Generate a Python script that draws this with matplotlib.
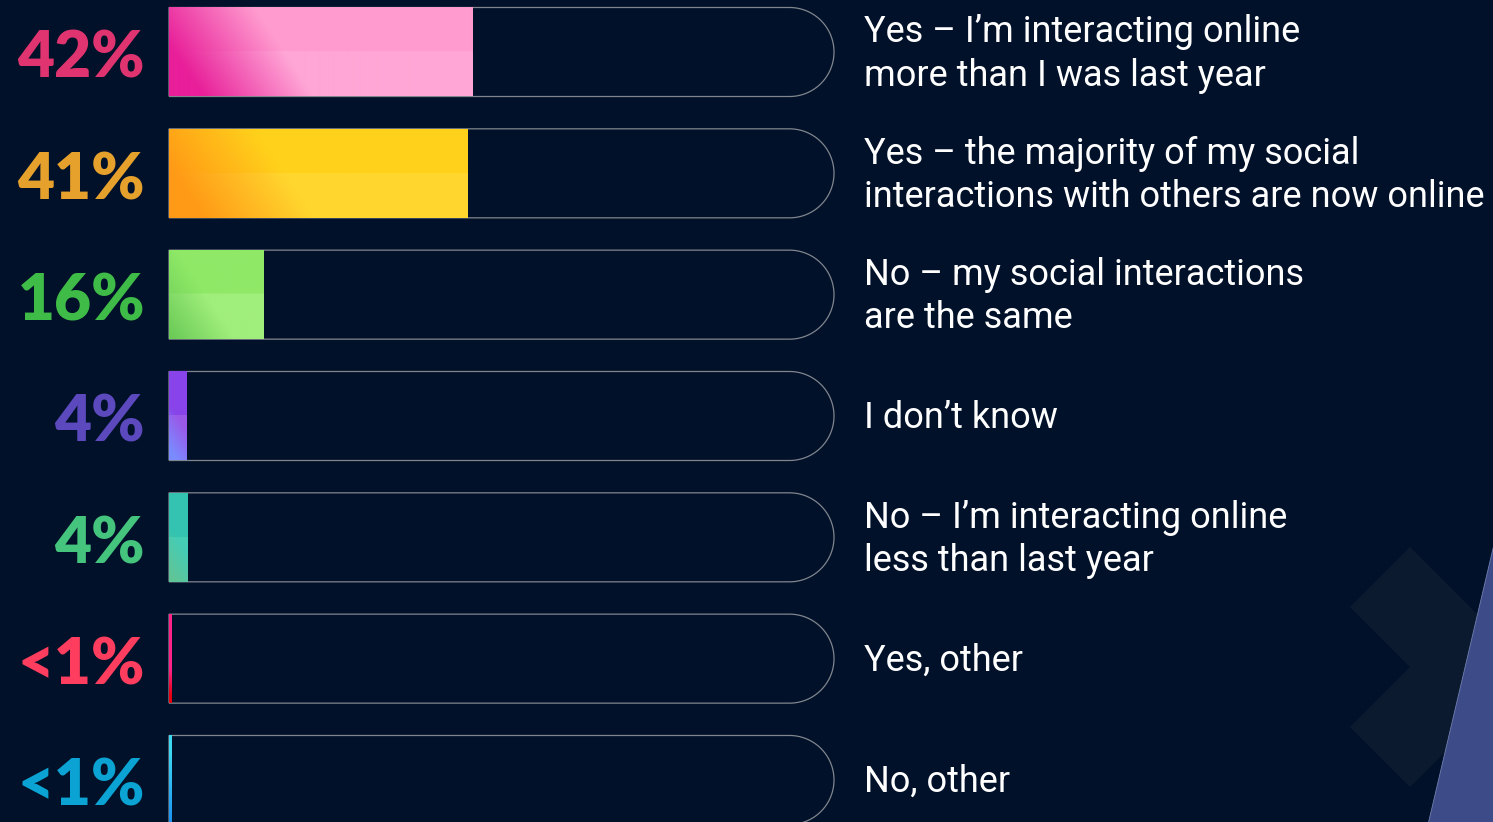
import numpy as np
import matplotlib
matplotlib.use('Agg')
import matplotlib.pyplot as plt
from matplotlib.path import Path
from matplotlib.patches import PathPatch, Polygon
from matplotlib.colors import to_rgb
import matplotlib.transforms as mtransforms

# ---------------- data ----------------
pct_labels = ['42%', '41%', '16%', '4%', '4%', '<1%', '<1%']
# bar lengths as drawn in the picture (same % scale as the 42% bar)
bar_lengths = [42, 41.2, 13.0, 2.35, 2.5, 0.35, 0.35]
answers = [
    ['Yes – I’m interacting online', 'more than I was last year'],
    ['Yes – the majority of my social', 'interactions with others are now online'],
    ['No – my social interactions', 'are the same'],
    ['I don’t know'],
    ['No – I’m interacting online', 'less than last year'],
    ['Yes, other'],
    ['No, other'],
]
label_colors = ['#e03470', '#e6a12d', '#3fbc48', '#5b49bd', '#44c47c', '#ff3d5e', '#0aa3d3']
grad_dark = ['#e81f99', '#ff9a16', '#6ccb57', '#7a8cff', '#5fc598', '#e60010', '#1a8ef0']
grad_light_top = ['#ff9bcf', '#ffd11b', '#8fe967', '#8844ea', '#34c3b0', '#ff2288', '#3ed8f2']
grad_light_bot = ['#ffa6d6', '#ffd62e', '#a0ee7b', '#9a58e8', '#45cdb6', '#ff2288', '#3ed8f2']
grad_offset = [25, 25, 55, 52, 52, 53, 60]
grad_span = [110, 110, 61, 30, 30, 17, 50]

BG = '#011129'
W, H = 1493, 822
DPI = 100

# layout (pixels)
x0_px = 169.0          # bar start
px_per_unit = 7.238    # pixels per percentage point
track_end_px = 834.0
row0_px = 52.0
row_step_px = 121.33
bar_h_px = 89.0

fig = plt.figure(figsize=(W / DPI, H / DPI), dpi=DPI, facecolor=BG)

# decoration layer (pixel coordinates)
bg = fig.add_axes([0, 0, 1, 1], zorder=0)
bg.set_xlim(0, W)
bg.set_ylim(H, 0)
bg.axis('off')
bg.set_facecolor(BG)
chev = Polygon([(1350, 607), (1410, 547), (1530, 667), (1410, 787), (1350, 727), (1410, 667)],
               closed=True, facecolor='#0c1a2f', edgecolor='none')
bg.add_patch(chev)
photo = Polygon([(1493, 546), (1493, 822), (1428, 822)], closed=True,
                facecolor='#3d4c88', edgecolor='#7080b0', lw=0.6)
bg.add_patch(photo)

# main axes
ax = fig.add_axes([0, 0, 1, 1], zorder=1)
ax.patch.set_alpha(0)
xlim = (-x0_px / px_per_unit, (W - x0_px) / px_per_unit)
ylim = ((H - row0_px) / row_step_px, -row0_px / row_step_px)
ax.set_xlim(*xlim)
ax.set_ylim(*ylim)
ax.axis('off')

n = len(pct_labels)
ys = np.arange(n)
bh = bar_h_px / row_step_px
hh = bh / 2
track_end = (track_end_px - x0_px) / px_per_unit
rx = (bar_h_px / 2) / px_per_unit

# tracks
for i in ys:
    th = np.linspace(-np.pi / 2, np.pi / 2, 80)
    cx = track_end - rx
    arc = np.column_stack([cx + rx * np.cos(th), i + hh * np.sin(th)])
    verts = np.vstack([[0, i + hh], [0, i - hh], arc, [0, i + hh]])
    codes = [Path.MOVETO] + [Path.LINETO] * (len(verts) - 1)
    ax.add_patch(PathPatch(Path(verts, codes), facecolor='none',
                           edgecolor='#80858e', lw=0.9, zorder=2))

# bars
bars = ax.barh(ys, bar_lengths, height=bh, left=0, color=grad_light_top,
               edgecolor='none', zorder=3)

for i, (b, L) in enumerate(zip(bars, bar_lengths)):
    wpx = max(L * px_per_unit, 2)
    nx = int(np.ceil(wpx)) + 1
    ny = int(bar_h_px)
    u = (np.arange(nx) + 0.5) * wpx / nx
    w = np.arange(ny) + 0.5
    U, Wm = np.meshgrid(u, w)
    s = U - 0.67 * Wm + grad_offset[i]
    t = np.clip(s / grad_span[i], 0, 1)[..., None]
    dark = np.array(to_rgb(grad_dark[i]))
    lt = np.array(to_rgb(grad_light_top[i]))
    lb = np.array(to_rgb(grad_light_bot[i]))
    light = np.where((Wm < bar_h_px / 2)[..., None], lt, lb)
    img = dark * (1 - t) + light * t
    im = ax.imshow(img, extent=(0, L, i + hh, i - hh), origin='upper',
                   aspect='auto', interpolation='bilinear', zorder=4)
    im.set_clip_path(b)

ax.set_xlim(*xlim)
ax.set_ylim(*ylim)

# percent labels
for i, (lab, col) in enumerate(zip(pct_labels, label_colors)):
    tr = mtransforms.offset_copy(ax.transData, fig=fig, x=-24, y=-26, units='dots')
    ax.text(0, i, lab, transform=tr, ha='right', va='baseline', color=col,
            fontsize=46, fontweight='heavy', family=['Lato', 'Liberation Sans', 'DejaVu Sans'],
            zorder=5)

# answer labels
for i, lines in enumerate(answers):
    if len(lines) == 2:
        offs = [-9.5, 33.5]
    else:
        offs = [12]
    for line, off in zip(lines, offs):
        tr = mtransforms.offset_copy(ax.transData, fig=fig, x=30, y=-off, units='dots')
        ax.text(track_end, i, line, transform=tr, ha='left', va='baseline',
                color='white', fontsize=26, family=['Roboto', 'DejaVu Sans'], zorder=5)

fig.savefig('out.png', dpi=DPI, facecolor=BG)
